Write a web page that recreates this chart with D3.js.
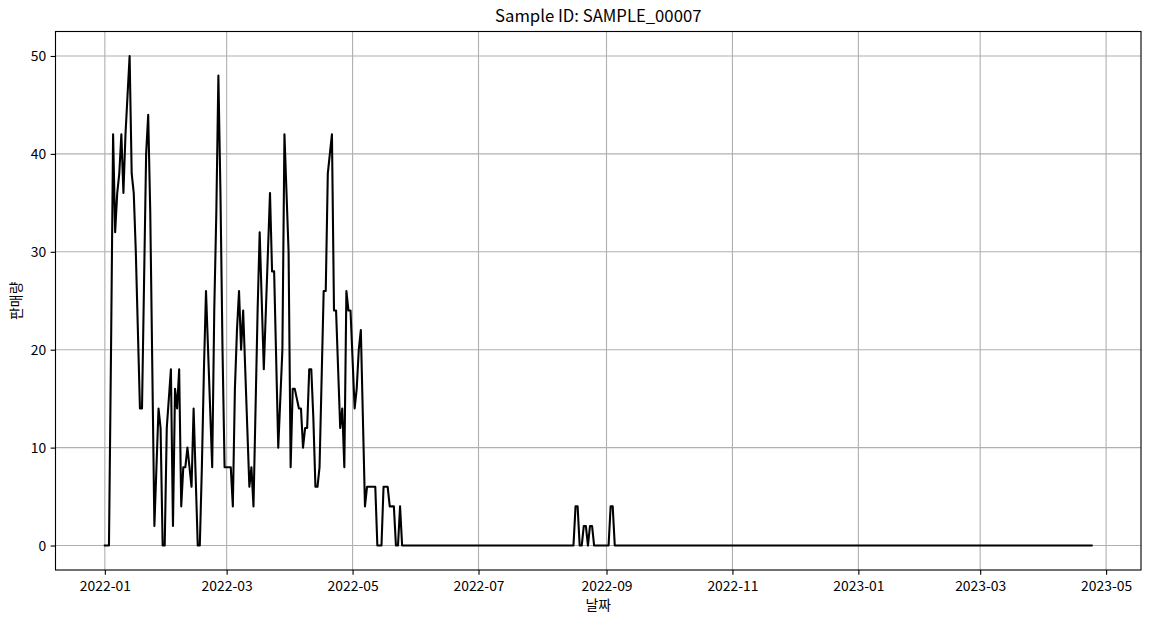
<!DOCTYPE html>
<html><head><meta charset="utf-8">
<script src="https://cdn.jsdelivr.net/npm/d3@7"></script>
<style>
body{margin:0;background:#fff;}
text{font-family:"Noto Sans CJK KR","Noto Sans",sans-serif;fill:#000;}
</style>
</head><body>
<svg id="chart" width="1149" height="623"></svg>
<script>
// ---- data ----
const title = "Sample ID: SAMPLE_00007";
const xLabel = "날짜";
const yLabel = "판매량";

// daily sales from 2022-01-01 to 2022-05-25
const springStart = "2022-01-01";
const springSales = [
  0, 0, 0, 20, 42, 32, 36, 38, 42, 36, 42, 46, 50, 38, 36, 30, 22, 14, 14, 27,
  40, 44, 34, 18, 2, 8, 14, 12, 0, 0, 12, 15, 18, 2, 16, 14, 18, 4, 8, 8,
  10, 8, 6, 14, 7, 0, 0, 8, 18, 26, 20, 14, 8, 24, 34, 48, 36, 20, 8, 8,
  8, 8, 4, 16, 22, 26, 20, 24, 18, 12, 6, 8, 4, 14, 24, 32, 25, 18, 24, 30,
  36, 28, 28, 19, 10, 15, 20, 42, 36, 30, 8, 16, 16, 15, 14, 14, 10, 12, 12, 18,
  18, 13, 6, 6, 8, 17, 26, 26, 38, 40, 42, 24, 24, 18, 12, 14, 8, 26, 24, 24,
  19, 14, 16, 20, 22, 13, 4, 6, 6, 6, 6, 6, 0, 0, 0, 6, 6, 6, 4, 4,
  4, 0, 0, 4, 0
];
// daily sales from 2022-08-16 to 2022-09-05
const summerStart = "2022-08-16";
const summerSales = [0, 4, 4, 0, 0, 2, 2, 0, 2, 2, 0, 0, 0, 0, 0, 0, 0, 0, 4, 4, 0];
// last recorded day
const lastDate = "2023-04-24";
const lastSales = 0;

const xTickLabels = ["2022-01","2022-03","2022-05","2022-07","2022-09","2022-11","2023-01","2023-03","2023-05"];
const yTicks = [0, 10, 20, 30, 40, 50];

// ---- build series ----
const parseDay = d3.utcParse("%Y-%m-%d");
const parseMonth = d3.utcParse("%Y-%m");
const points = [];
springSales.forEach((v, i) => points.push({date: d3.utcDay.offset(parseDay(springStart), i), value: v}));
summerSales.forEach((v, i) => points.push({date: d3.utcDay.offset(parseDay(summerStart), i), value: v}));
points.push({date: parseDay(lastDate), value: lastSales});
points.sort((a, b) => a.date - b.date);

// ---- layout ----
const svg = d3.select("#chart");
const L = 55.5, R = 1141, T = 31.5, B = 570;
svg.append("rect").attr("width", 1149).attr("height", 623).attr("fill", "#fff");

const tMin = d3.min(points, d => d.date), tMax = d3.max(points, d => d.date);
const span = tMax - tMin;
const x = d3.scaleUtc().domain([new Date(+tMin - 0.05 * span), new Date(+tMax + 0.05 * span)]).range([L, R]);
const vMax = d3.max(points, d => d.value), vMin = 0;
const vSpan = vMax - vMin;
const y = d3.scaleLinear().domain([vMin - 0.05 * vSpan, vMax + 0.05 * vSpan]).range([B, T]);

const xTicks = xTickLabels.map(parseMonth);
const fmt = d3.utcFormat("%Y-%m");

// grid
const grid = svg.append("g").attr("stroke", "#b0b0b0").attr("stroke-width", 1.11);
grid.selectAll("line.gx").data(xTicks).join("line")
  .attr("x1", d => x(d)).attr("x2", d => x(d)).attr("y1", T).attr("y2", B);
grid.selectAll("line.gy").data(yTicks).join("line")
  .attr("x1", L).attr("x2", R).attr("y1", d => y(d)).attr("y2", d => y(d));

// axes
const xAxis = d3.axisBottom(x).tickValues(xTicks).tickFormat(fmt).tickSize(4.86).tickPadding(4);
const yAxis = d3.axisLeft(y).tickValues(yTicks).tickSize(4.86).tickPadding(4.5);
const gx = svg.append("g").attr("transform", `translate(0,${B})`).call(xAxis);
const gy = svg.append("g").attr("transform", `translate(${L},0)`).call(yAxis);
[gx, gy].forEach(g => {
  g.select(".domain").remove();
  g.selectAll(".tick line").attr("stroke", "#000").attr("stroke-width", 1.11);
  g.selectAll(".tick text").attr("font-size", 13.9).attr("font-family", '"Noto Sans CJK KR","Noto Sans",sans-serif').attr("fill", "#000");
});
gx.selectAll(".tick text").attr("dy", null).attr("y", 21);
gy.selectAll(".tick text").attr("dy", "0.34em");

// line
const line = d3.line().x(d => x(d.date)).y(d => y(d.value));
svg.append("path").datum(points).attr("d", line)
  .attr("fill", "none").attr("stroke", "#000").attr("stroke-width", 2.08)
  .attr("stroke-linejoin", "round").attr("stroke-linecap", "square");

// spines
svg.append("rect").attr("x", L).attr("y", T).attr("width", R - L).attr("height", B - T)
  .attr("fill", "none").attr("stroke", "#000").attr("stroke-width", 1.11);

// labels
svg.append("text").attr("x", (L + R) / 2).attr("y", 22).attr("text-anchor", "middle")
  .attr("font-size", 16.7).text(title);
svg.append("text").attr("x", (L + R) / 2).attr("y", 610).attr("text-anchor", "middle")
  .attr("font-size", 13.9).text(xLabel);
svg.append("text").attr("transform", `translate(21,${(T + B) / 2}) rotate(-90)`).attr("text-anchor", "middle")
  .attr("font-size", 13.9).text(yLabel);
</script>
</body></html>
